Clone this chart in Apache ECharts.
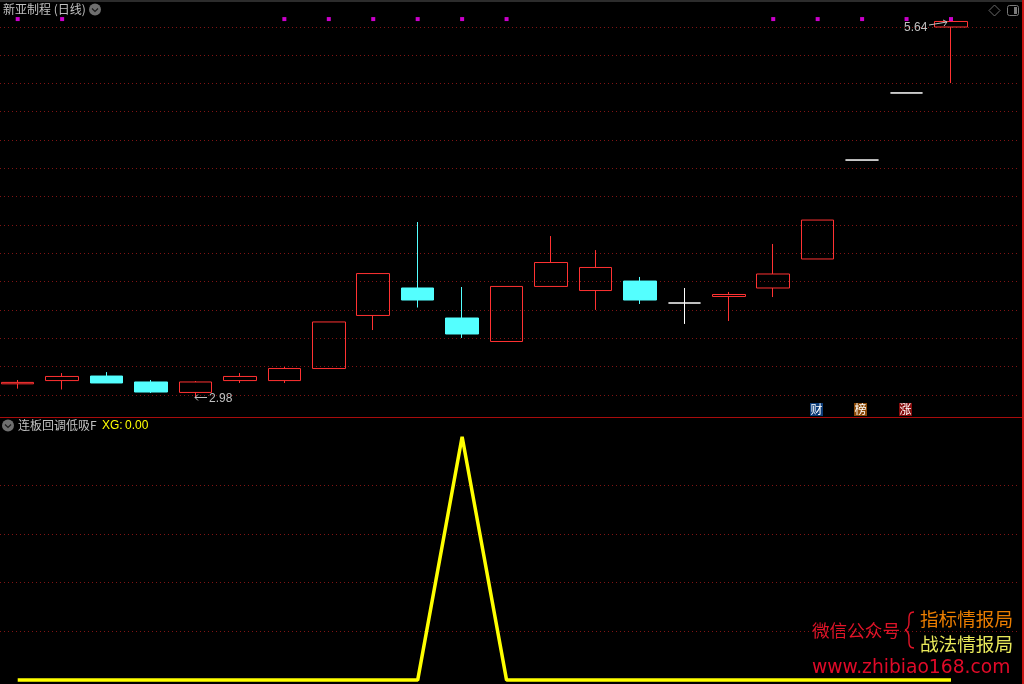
<!DOCTYPE html>
<html>
<head>
<meta charset="utf-8">
<style>html,body{margin:0;padding:0;background:#000}#c{width:1024px;height:684px}</style>
<script src="https://cdn.jsdelivr.net/npm/echarts@6/dist/echarts.min.js"></script>
</head>
<body>
<div id="c"></div>
<script>
var categories = ['1','2','3','4','5','6','7','8','9','10','11','12','13','14','15','16','17','18','19','20','21','22'];
// [open, close, low, high]
var candles = [
  [3.079,3.089,3.045,3.106],
  [3.102,3.131,3.039,3.155],
  [3.134,3.085,3.085,3.162],
  [3.092,3.021,3.014,3.106],
  [3.018,3.092,2.98,3.099],
  [3.102,3.131,3.085,3.155],
  [3.102,3.187,3.085,3.198],
  [3.187,3.516,3.187,3.516],
  [3.562,3.858,3.459,3.858],
  [3.756,3.671,3.618,4.222],
  [3.544,3.431,3.403,3.763],
  [3.378,3.767,3.378,3.767],
  [3.767,3.936,3.767,4.123],
  [3.738,3.901,3.601,4.024],
  [3.805,3.671,3.643,3.834],
  [3.65,3.65,3.502,3.756],
  [3.696,3.710,3.523,3.728],
  [3.756,3.855,3.692,4.067],
  [3.961,4.236,3.961,4.236],
  [4.66,4.66,4.66,4.66],
  [5.134,5.134,5.134,5.134],
  [5.6,5.639,5.204,5.639]
];
var signalDots = [5.656,5.656,null,null,null,null,5.656,5.656,5.656,5.656,5.656,5.656,null,null,null,null,null,5.656,5.656,5.656,5.656,5.656];
var xgValues = [0,0,0,0,0,0,0,0,0,0,1,0,0,0,0,0,0,0,0,0,0,0];
var priceGridLines = [3,3.2,3.4,3.6,3.8,4,4.2,4.4,4.6,4.8,5,5.2,5.4,5.6];
var xgGridLines = [0.2,0.4,0.6,0.8];

var RED='#ff3232', CYAN='#54ffff', GRID='#801414', GRAY='#c0c0c0';
var CJK='"Noto Sans CJK SC"', LAT='"Liberation Sans"';

function txt(x,y,text,fill,font,align){
  return {type:'text',silent:true,z:20,style:{x:x,y:y,text:text,fill:fill,font:font,align:align||'left',verticalAlign:'middle'}};
}
function rect(x,y,w,h,fill){
  return {type:'rect',silent:true,z:15,shape:{x:x,y:y,width:w,height:h},style:{fill:fill}};
}
function line(pts,stroke,w){
  return {type:'polyline',silent:true,z:20,shape:{points:pts},style:{stroke:stroke,lineWidth:w||1,fill:null}};
}
function curve(x1,y1,c1x,c1y,c2x,c2y,x2,y2,stroke,w){
  return {type:'bezierCurve',silent:true,z:20,shape:{x1:x1,y1:y1,x2:x2,y2:y2,cpx1:c1x,cpy1:c1y,cpx2:c2x,cpy2:c2y},style:{stroke:stroke,lineWidth:w,fill:null}};
}
function chevron(cx,cy){
  return [
    {type:'circle',silent:true,z:20,shape:{cx:cx,cy:cy,r:6},style:{fill:'#6f6f6f'}},
    line([[cx-3,cy-1],[cx,cy+2],[cx+3,cy-1]],'#1c1c1c',1.2)
  ];
}
function badge(x,ch,bg){
  return [rect(x,403,13,13,bg),txt(x+6.5,409.5,ch,'#ffffff','12px '+CJK,'center')];
}
// dotted horizontal rule spanning the whole panel, snapped to a pixel row
function ruleItem(params,api){
  var y=Math.floor(api.coord([0,api.value(0)])[1])+0.5;
  return {type:'line',silent:true,shape:{x1:0,y1:y,x2:1018,y2:y},style:{stroke:GRID,lineWidth:1,lineDash:[1,3],fill:null}};
}

var graphics = [
  rect(0,0,1024,2,'#2c2c2c'),
  rect(0,417,1024,1,'#a80c0c'),
  rect(1022,0,2,684,'#c81414'),
  txt(3,9.5,'新亚制程 (日线)',GRAY,'12px '+CJK),
  txt(18,425.5,'连板回调低吸F',GRAY,'12px '+CJK),
  txt(102,425.5,'XG:','#ffff00','12px '+LAT),
  txt(125,425.5,'0.00','#ffff00','12px '+LAT),
  txt(904,27.5,'5.64',GRAY,'12px '+LAT),
  line([[929,25],[947,22]],GRAY),
  line([[943,20],[947,22],[944,26]],GRAY),
  txt(209,398.5,'2.98',GRAY,'12px '+LAT),
  line([[207,397.5],[195,397.5]],GRAY),
  line([[198,394.5],[195,397.5],[198,400.5]],GRAY),
  {type:'polygon',silent:true,z:20,shape:{points:[[994.5,5],[1000,10.5],[994.5,16],[989,10.5]]},style:{stroke:'#6a6a6a',lineWidth:1,fill:null}},
  {type:'rect',silent:true,z:20,shape:{x:1007.5,y:5.5,width:11,height:10,r:2},style:{stroke:'#7a7a7a',lineWidth:1,fill:null}},
  rect(1014,7,3,7,'#7a7a7a'),
  txt(812,630,'微信公众号','#e01428','17.6px '+CJK),
  txt(920,619,'指标情报局','#ea7d00','18.6px '+CJK),
  txt(920,644,'战法情报局','#e8e85a','18.6px '+CJK),
  txt(812,668,'www.zhibiao168.com','#e00a28','18.7px "DejaVu Sans"'),
  curve(914,612,908,612,909,618,909,622,'#e01428',1.4),
  curve(909,622,909,627,908,629,905,630,'#e01428',1.4),
  curve(905,630,908,631,909,633,909,638,'#e01428',1.4),
  curve(909,638,909,642,908,648,914,648,'#e01428',1.4)
].concat(chevron(95,9.5),chevron(8,425.5),badge(810,'财','#0c3c78'),badge(854,'榜','#8a4a08'),badge(899,'涨','#860c0c'));

var chart = echarts.init(document.getElementById('c'),null,{renderer:'canvas'});
var hiddenAxis = {show:true,axisLine:{show:false},axisTick:{show:false},axisLabel:{show:false},splitLine:{show:false}};
chart.setOption({
  animation:false,
  backgroundColor:'#000000',
  grid:[
    {left:17.7,width:933.3,top:27,height:368},
    {left:17.7,width:933.3,top:485.4,height:146}
  ],
  xAxis:[
    Object.assign({type:'category',data:categories,gridIndex:0,boundaryGap:false},hiddenAxis),
    Object.assign({type:'category',data:categories,gridIndex:1,boundaryGap:false},hiddenAxis)
  ],
  yAxis:[
    Object.assign({type:'value',gridIndex:0,min:3,max:5.6,interval:0.2},hiddenAxis),
    Object.assign({type:'value',gridIndex:1,min:0.2,max:0.8,interval:0.2},hiddenAxis)
  ],
  series:[
    {type:'custom',xAxisIndex:0,yAxisIndex:0,coordinateSystem:'cartesian2d',data:priceGridLines.map(function(v){return [v];}),encode:{y:0},renderItem:ruleItem,clip:false,silent:true,z:1},
    {type:'custom',xAxisIndex:1,yAxisIndex:1,coordinateSystem:'cartesian2d',data:xgGridLines.map(function(v){return [v];}),encode:{y:0},renderItem:ruleItem,clip:false,silent:true,z:1},
    {type:'candlestick',xAxisIndex:0,yAxisIndex:0,data:candles,clip:false,barWidth:33,z:5,
     itemStyle:{color:'transparent',color0:CYAN,borderColor:RED,borderColor0:CYAN,borderColorDoji:'#ffffff',borderWidth:1}},
    {type:'scatter',xAxisIndex:0,yAxisIndex:0,data:signalDots,clip:false,symbol:'rect',symbolSize:4,z:8,
     itemStyle:{color:'#ff00ff'}},
    {type:'line',xAxisIndex:1,yAxisIndex:1,data:xgValues,clip:false,showSymbol:false,symbol:'none',z:6,
     lineStyle:{color:'#ffff00',width:3.5}}
  ],
  graphic:{elements:graphics}
});
</script>
</body>
</html>
